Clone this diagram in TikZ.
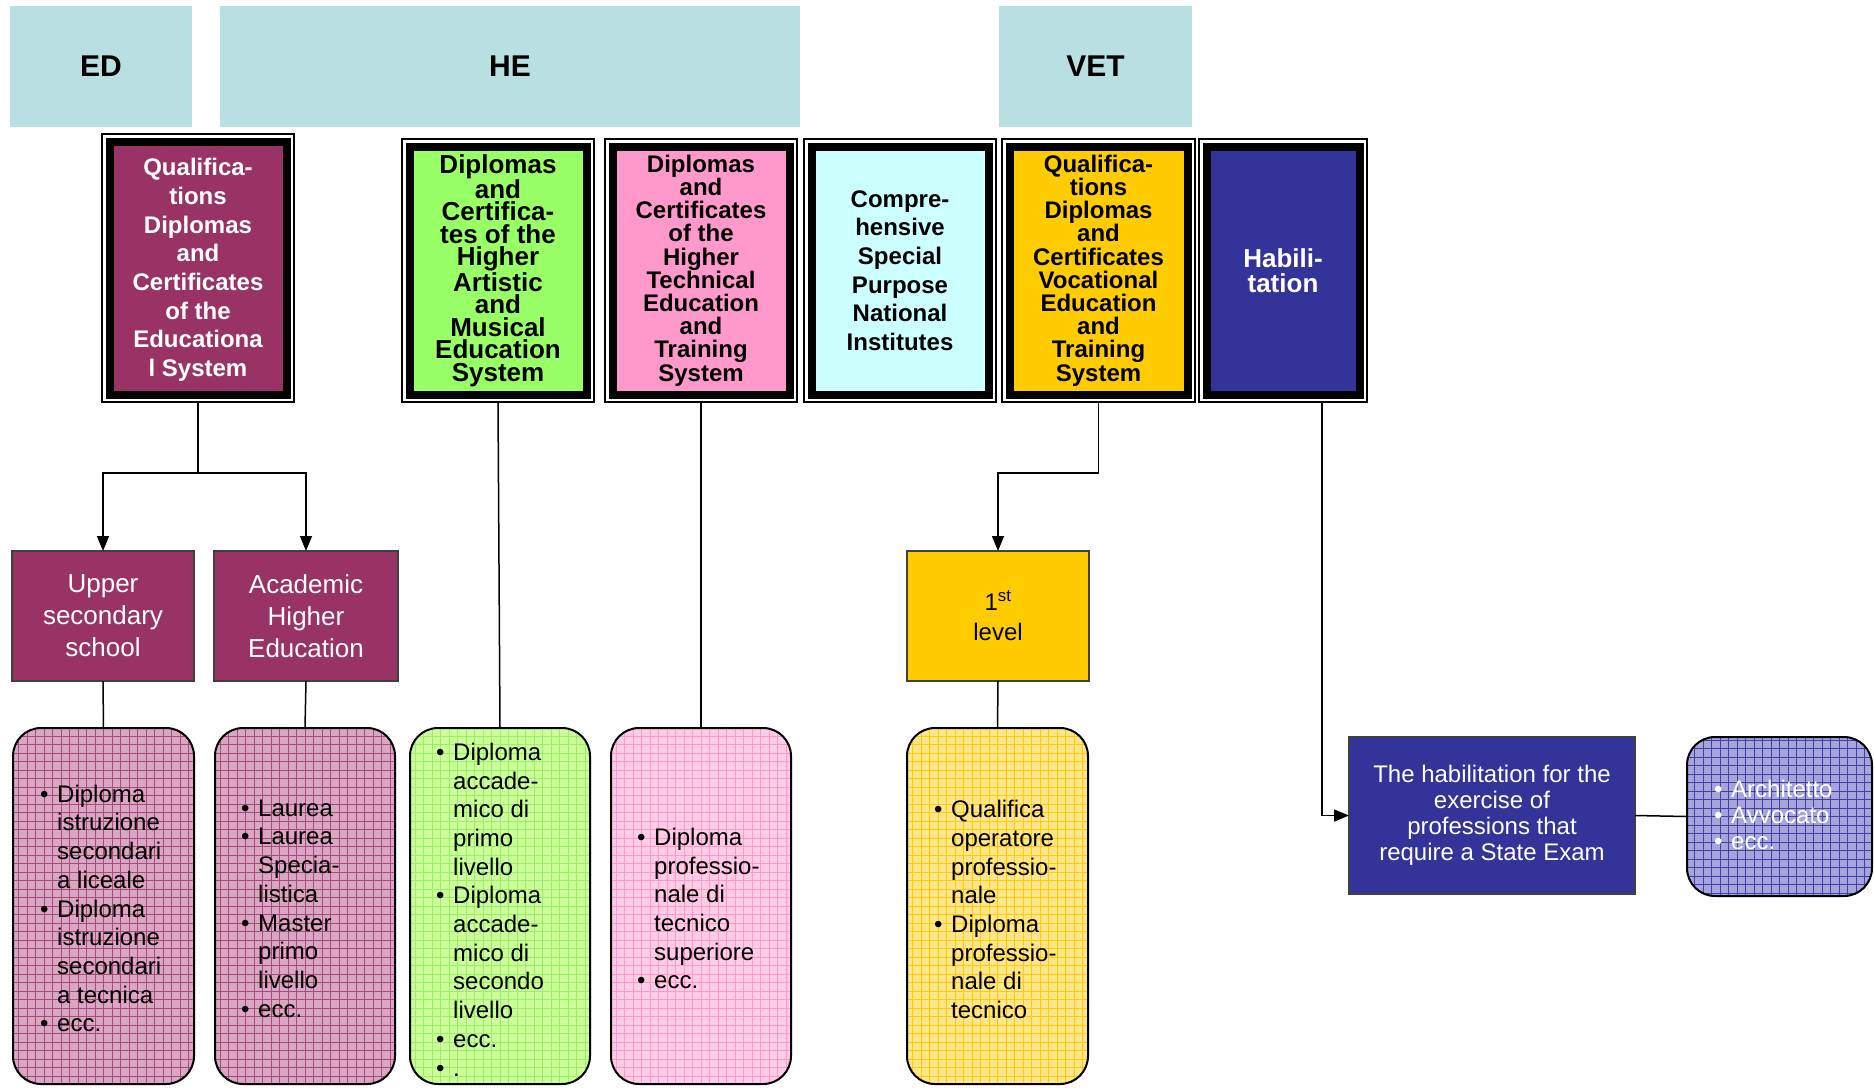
\documentclass[tikz,border=0pt]{standalone}
\usepackage{fontspec}
\setmainfont{Liberation Sans}
\usetikzlibrary{arrows.meta}
\definecolor{hdr}{HTML}{B8DFE1}
\definecolor{plum}{HTML}{993366}
\definecolor{grn}{HTML}{99FF66}
\definecolor{pnk}{HTML}{FF99CC}
\definecolor{cyn}{HTML}{CCFFFF}
\definecolor{gold}{HTML}{FFCC00}
\definecolor{navy}{HTML}{333399}
\definecolor{plumlt}{HTML}{D9A7C3}
\definecolor{plumgr}{HTML}{A84A7A}
\definecolor{grnlt}{HTML}{CCFF99}
\definecolor{grngr}{HTML}{99F066}
\definecolor{pnklt}{HTML}{FFCCE6}
\definecolor{pnkgr}{HTML}{FF99CC}
\definecolor{goldlt}{HTML}{FFE68C}
\definecolor{navylt}{HTML}{A5A5DC}
\definecolor{navygr}{HTML}{4040A8}
\newcommand{\bu}{\makebox[18pt][l]{\hspace{1pt}\textbullet}}
\newcommand{\ind}{\hspace*{18pt}}
\newcommand{\frameit}[2]{%
  \fill[black] ([shift={(3.5,3.5)}]#1.north west) rectangle ([shift={(-3.5,-3.5)}]#1.south east);
  \fill[#2] ([shift={(11.5,11.5)}]#1.north west) rectangle ([shift={(-11.5,-11.5)}]#1.south east);}
\begin{document}
\begin{tikzpicture}[x=1pt,y=-1pt,
  hdrbox/.style={fill=hdr, inner sep=0, outer sep=0, font=\fontsize{30}{34}\selectfont\bfseries},
  frm/.style={draw=black, line width=1.5, fill=white, inner sep=0, outer sep=0, minimum height=263, minimum width=192},
  ttl/.style={align=center, inner sep=0, font=\fontsize{24}{23.2}\selectfont\bfseries},
  midbox/.style={draw=black!75, line width=1.5, inner sep=0, outer sep=0, minimum width=182, minimum height=130, align=center, font=\fontsize{26}{32}\selectfont},
  listbox/.style 2 args={draw=black, line width=2, rounded corners=28, fill=#1, inner sep=0, outer sep=0,
     minimum width=181, minimum height=356,
     path picture={\draw[#2, line width=0.6] (path picture bounding box.north west) grid[step=8.5pt] (path picture bounding box.south east);}},
  ltxt/.style={anchor=west, align=left, inner sep=0, font=\fontsize{24}{28.7}\selectfont},
  conn/.style={draw=black, line width=1.5},
  arr/.style={draw=black, line width=1.5, -{Triangle[length=15pt,width=12pt]}}]
\useasboundingbox (0,0) rectangle (1874,1088);

% headers
\node[hdrbox, minimum width=182, minimum height=121] (ed) at (101,66.5) {ED};
\node[hdrbox, minimum width=580, minimum height=121] (he) at (510,66.5) {HE};
\node[hdrbox, minimum width=193, minimum height=121] (vet) at (1095.5,66.5) {VET};

% top frames
\node[frm, minimum height=268] (b1) at (198,268) {};
\frameit{b1}{plum}
\node[ttl, text=white, font=\fontsize{24}{28.7}\selectfont\bfseries] (t1) at ([yshift=-2pt]b1.center) {Qualifica-\\tions\\Diplomas\\and\\Certificates\\of the\\Educationa\\l System};

\node[frm] (b2) at (498,270.5) {};
\frameit{b2}{grn}
\node[ttl, font=\fontsize{26}{22.5}\selectfont\bfseries] (t2) at (b2.center) {Diplomas\\and\\Certifica-\\tes of the\\Higher\\Artistic\\and\\Musical\\Education\\System};

\node[frm] (b3) at (701,270.5) {};
\frameit{b3}{pnk}
\node[ttl] (t3) at (b3.center) {Diplomas\\and\\Certificates\\of the\\Higher\\Technical\\Education\\and\\Training\\System};

\node[frm] (b4) at (900,270.5) {};
\frameit{b4}{cyn}
\node[ttl, font=\fontsize{24}{28.7}\selectfont\bfseries] (t4) at (b4.center) {Compre-\\hensive\\Special\\Purpose\\National\\Institutes};

\node[frm, minimum width=193] (b5) at (1098.5,270.5) {};
\frameit{b5}{gold}
\node[ttl] (t5) at (b5.center) {Qualifica-\\tions\\Diplomas\\and\\Certificates\\Vocational\\Education\\and\\Training\\System};

\node[frm, minimum width=168] (b6) at (1283,270.5) {};
\frameit{b6}{navy}
\node[ttl, text=white, font=\fontsize{26}{25}\selectfont\bfseries] (t6) at (b6.center) {Habili-\\tation};

% second level
\node[midbox, fill=plum, text=white] (us) at (103,616) {Upper\\secondary\\school};
\node[midbox, fill=plum, text=white, minimum width=184] (ahe) at (306,616) {Academic\\Higher\\Education};
\node[midbox, fill=gold, font=\fontsize{24}{30}\selectfont] (l1) at (998,616) {1\textsuperscript{st}\\level};
\node[midbox, fill=navy, text=white, minimum width=286, minimum height=157, font=\fontsize{24}{26}\selectfont] (hab) at (1492,815.5) {The habilitation for the\\exercise of\\professions that\\require a State Exam};

% list boxes
\node[listbox={plumlt}{plumgr}] (pl1) at (103.5,906) {};
\node[listbox={plumlt}{plumgr}, minimum width=180] (pl2) at (305,906) {};
\node[listbox={grnlt}{grngr}, minimum width=180] (gl) at (500,906) {};
\node[listbox={pnklt}{pnkgr}, minimum width=180] (pk) at (701,906) {};
\node[listbox={goldlt}{gold}] (yl) at (997.5,906) {};
\node[listbox={navylt}{navygr}, minimum width=185, minimum height=159] (bl) at (1779.5,816.5) {};

% list texts
\node[ltxt] (x1) at (39,908.5) {\bu Diploma\\\ind istruzione\\\ind secondari\\\ind a liceale\\\bu Diploma\\\ind istruzione\\\ind secondari\\\ind a tecnica\\\bu ecc.};
\node[ltxt] (x2) at (240,908.5) {\bu Laurea\\\bu Laurea\\\ind Specia-\\\ind listica\\\bu Master\\\ind primo\\\ind livello\\\bu ecc.};
\node[ltxt] (x3) at (435,909.5) {\bu Diploma\\\ind accade-\\\ind mico di\\\ind primo\\\ind livello\\\bu Diploma\\\ind accade-\\\ind mico di\\\ind secondo\\\ind livello\\\bu ecc.\\\bu .};
\node[ltxt] (x4) at (636,908.5) {\bu Diploma\\\ind professio-\\\ind nale di\\\ind tecnico\\\ind superiore\\\bu ecc.};
\node[ltxt] (x5) at (933,909.5) {\bu Qualifica\\\ind operatore\\\ind professio-\\\ind nale\\\bu Diploma\\\ind professio-\\\ind nale di\\\ind tecnico};
\node[ltxt, text=white, font=\fontsize{24}{26}\selectfont] (x6) at (1713,815) {\bu Architetto\\\bu Avvocato\\\bu ecc.};

% connectors
\coordinate (j1) at (198,473);
\draw[conn] (b1.south) -- (j1);
\draw[arr] (j1) -| (us.north);
\draw[arr] (j1) -| (ahe.north);
\draw[conn] (b2.south) -- (gl.north);
\draw[conn] (b3.south) -- (pk.north);
\coordinate (j2) at (1098.5,473);
\draw[conn] (b5.south) -- (j2);
\draw[arr] (j2) -| (l1.north);
\coordinate (j3) at (1322,816);
\draw[arr] (b6.south -| j3) |- (hab.west);
\draw[conn] (hab.east) -- (bl.west);
\draw[conn] (us.south) -- (pl1.north);
\draw[conn] (ahe.south) -- (pl2.north);
\draw[conn] (l1.south) -- (yl.north);
\end{tikzpicture}
\end{document}
